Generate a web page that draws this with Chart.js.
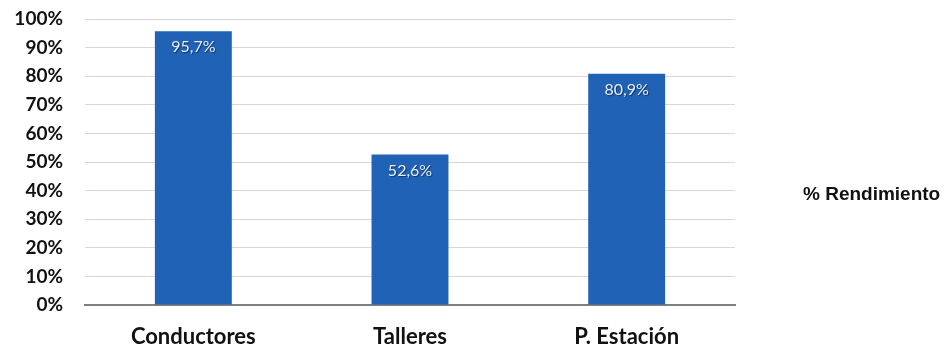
<!DOCTYPE html>
<html>
<head>
<meta charset="utf-8">
<script src="https://cdn.jsdelivr.net/npm/chart.js@4.4.1/dist/chart.umd.min.js"></script>
<style>
html,body{margin:0;padding:0;background:#fff;}
#wrap{width:944px;height:349px;position:relative;}
</style>
</head>
<body>
<div id="wrap"><canvas id="c"></canvas></div>
<script>
const categories = ["Conductores", "Talleres", "P. Estación"];
const rendimiento = [95.7, 52.6, 80.9];
const seriesName = "% Rendimiento";
const yTicks = [0, 10, 20, 30, 40, 50, 60, 70, 80, 90, 100];

const FONT = "Lato";

const valueLabels = {
  id: 'valueLabels',
  afterDatasetsDraw(chart) {
    const ctx = chart.ctx;
    const meta = chart.getDatasetMeta(0);
    ctx.save();
    ctx.font = "16px " + FONT;
    ctx.fillStyle = "#e8eef8";
    ctx.textAlign = "center";
    ctx.textBaseline = "middle";
    ctx.shadowColor = "rgba(0,0,0,0.45)";
    ctx.shadowOffsetX = 1;
    ctx.shadowOffsetY = 1;
    ctx.shadowBlur = 1;
    meta.data.forEach((bar, i) => {
      const v = rendimiento[i];
      ctx.fillText(v.toFixed(1).replace('.', ',') + '%', bar.x, bar.y + 16);
    });
    ctx.restore();
  }
};

const sideLegend = {
  id: 'sideLegend',
  afterDraw(chart) {
    const ctx = chart.ctx;
    ctx.save();
    ctx.font = "bold 19px 'Liberation Sans'";
    ctx.fillStyle = "#111";
    ctx.textAlign = "left";
    ctx.textBaseline = "middle";
    ctx.fillText(seriesName, chart.chartArea.right + 68, chart.chartArea.top + 176);
    ctx.restore();
  }
};

new Chart(document.getElementById('c'), {
  type: 'bar',
  data: {
    labels: categories,
    datasets: [{
      label: seriesName,
      data: rendimiento,
      backgroundColor: '#1f62b6',
      borderWidth: 0,
      categoryPercentage: 1,
      barPercentage: 0.355
    }]
  },
  options: {
    responsive: true,
    maintainAspectRatio: false,
    animation: false,
    layout: { padding: { left: 0, right: 209, top: 19, bottom: 0 } },
    plugins: { legend: { display: false }, tooltip: { enabled: false } },
    scales: {
      x: {
        grid: { display: false },
        border: { display: true, color: '#7f7f7f', width: 2 },
        ticks: { color: '#111', font: { family: FONT, size: 22, weight: 'bold' }, padding: 11 },
        afterFit(s) { s.height = 44; }
      },
      y: {
        min: 0, max: 100,
        afterBuildTicks(s) { s.ticks = yTicks.map(v => ({ value: v })); },
        grid: { color: '#ddd6d2', lineWidth: 1, drawTicks: false },
        border: { display: false },
        ticks: {
          color: '#111', font: { family: FONT, size: 19, weight: 'bold' }, padding: 22,
          callback: v => v + '%'
        },
        afterFit(s) { s.width = 85; s.paddingTop = 0; s.paddingBottom = 0; }
      }
    }
  },
  plugins: [valueLabels, sideLegend]
});
</script>
</body>
</html>
